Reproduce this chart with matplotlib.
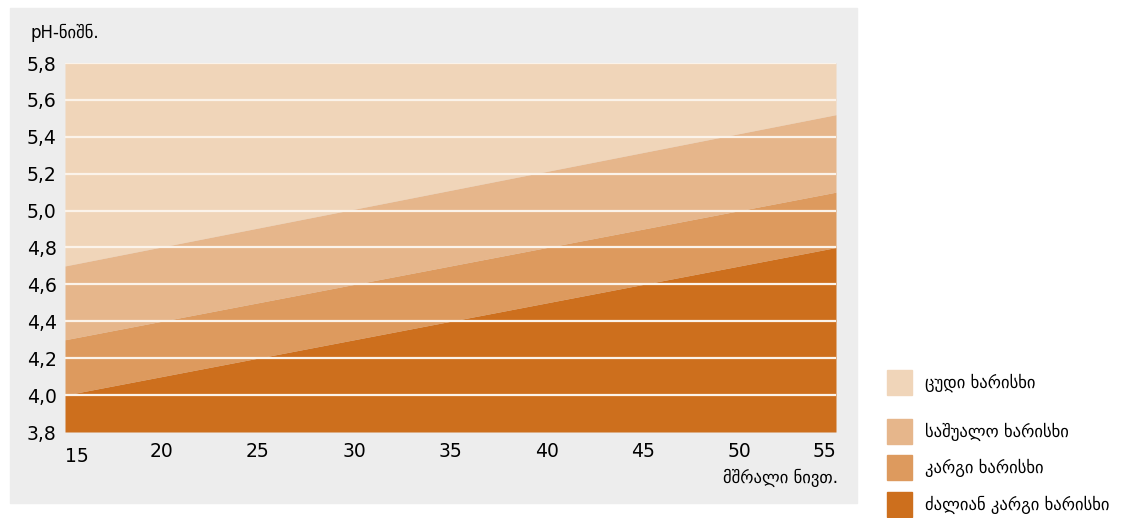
import matplotlib.pyplot as plt
import matplotlib.patches as mpatches
import numpy as np

# მშრალი ნივთიერება (%) და ზღვრული pH მნიშვნელობები
dry_matter = [15, 55]
very_good_top = [4.0, 4.8]
good_top = [4.3, 5.1]
medium_top = [4.7, 5.52]
y_min, y_max = 3.8, 5.8

x_ticks = [15, 20, 25, 30, 35, 40, 45, 50, 55]
y_ticks = [3.8, 4.0, 4.2, 4.4, 4.6, 4.8, 5.0, 5.2, 5.4, 5.6, 5.8]

labels = ['ცუდი ხარისხი', 'საშუალო ხარისხი', 'კარგი ხარისხი', 'ძალიან კარგი ხარისხი']
colors = ['#F0D5B9', '#E6B68B', '#DD9A5E', '#CD6F1D']

plt.rcParams['font.family'] = ['DejaVu Sans']

fig = plt.figure(figsize=(11.42, 5.18), dpi=100)

# ნაცრისფერი ფონი დიაგრამის უკან
bg = mpatches.Rectangle((10 / 1142, 1 - 503 / 518), 847 / 1142, 495 / 518,
                        transform=fig.transFigure, color='#EDEDED', zorder=-10)
fig.patches.append(bg)

ax = fig.add_axes([65 / 1142, 1 - 432 / 518, 771 / 1142, 369 / 518])
ax.set_facecolor('none')
ax.set_zorder(5)

x = np.array(dry_matter)
top = np.full(2, y_max)
bottom = np.full(2, y_min)
ax.fill_between(x, medium_top, top, color=colors[0], lw=0, zorder=1)
ax.fill_between(x, good_top, medium_top, color=colors[1], lw=0, zorder=1)
ax.fill_between(x, very_good_top, good_top, color=colors[2], lw=0, zorder=1)
ax.fill_between(x, bottom, very_good_top, color=colors[3], lw=0, zorder=1)

for yv in y_ticks[1:]:
    ax.axhline(yv, color='#FBF3EA', lw=1.6, zorder=2)

ax.set_xlim(15, 55)
ax.set_ylim(y_min, y_max)
for s in ax.spines.values():
    s.set_visible(False)

ax.set_yticks(y_ticks)
ax.set_yticklabels([f'{v:.1f}'.replace('.', ',') for v in y_ticks], fontsize=13.5)
ax.tick_params(axis='y', length=0, pad=6)

ax.set_xticks(x_ticks)
ax.set_xticklabels([str(v) for v in x_ticks], fontsize=13.5)
ax.tick_params(axis='x', length=0, pad=7)
xl = ax.get_xticklabels()
xl[0].set_horizontalalignment('left')
xl[0].set_y(-0.015)
xl[-1].set_horizontalalignment('right')

fig.text(30 / 1142, 1 - 33 / 518, 'pH-ნიშნ.', fontsize=12, va='center', ha='left')
fig.text(838 / 1142, 1 - 478 / 518, 'მშრალი ნივთ.', fontsize=12, va='center', ha='right')

# ლეგენდა მარჯვნივ
rows = [383, 432, 468, 505]
for lab, col, ry in zip(labels, colors, rows):
    fig.patches.append(mpatches.Rectangle((887 / 1142, 1 - (ry + 12) / 518), 25 / 1142, 25 / 518,
                                          transform=fig.transFigure, color=col))
    fig.text(925 / 1142, 1 - ry / 518, lab, fontsize=12, va='center', ha='left')

fig.savefig('out.png', dpi=100)
